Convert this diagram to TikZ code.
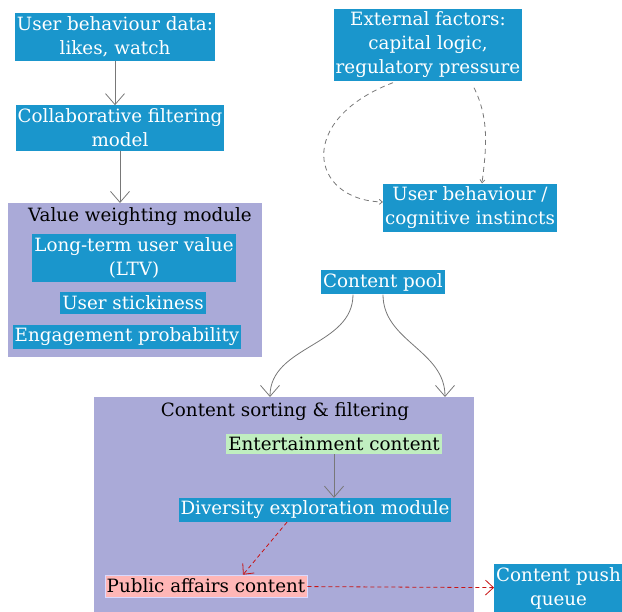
\documentclass[tikz,border=0pt]{standalone}
\usepackage{fontspec}
\setmainfont{DejaVu Serif}
\usepackage{tikz}
\usetikzlibrary{positioning,arrows.meta}
\definecolor{boxblue}{RGB}{26,150,204}
\definecolor{grpviolet}{RGB}{170,170,216}
\definecolor{entgreen}{RGB}{192,238,192}
\definecolor{pubpink}{RGB}{255,182,182}
\definecolor{arrowgray}{RGB}{120,120,120}
\definecolor{pushred}{RGB}{200,20,20}

\begin{document}
\begin{tikzpicture}[x=1pt,y=-1pt,
	txt/.style={font=\fontsize{18.3}{24}\selectfont},
	blk/.style={txt,fill=boxblue,text=white,align=center,inner xsep=2pt,inner ysep=3.5pt},
	grp/.style={fill=grpviolet,anchor=north west,inner sep=0pt},
	flow/.style={draw=arrowgray,thick,-{Straight Barb[length=11pt,width=19pt]}},
	hint/.style={draw=arrowgray,thick,dash pattern=on 5pt off 4pt,-{Straight Barb[length=3pt,width=5pt]}},
	push/.style={draw=pushred,thick,dash pattern=on 4pt off 3pt,-{Straight Barb[length=8pt,width=15pt]}}]
	
	\useasboundingbox (0,0) rectangle (622,612);
	
	% groups
	\node[grp,minimum width=254,minimum height=154] (valgrp) at (8,203) {};
	\node[txt] (valtitle) at (140,217) {Value weighting module};
	\node[grp,minimum width=380,minimum height=220] (sortgrp) at (94,397) {};
	\node[txt] (sorttitle) at (285,412) {Content sorting \& filtering};
	
	% left column
	\node[blk] (behav) at (115,37) {User behaviour data:\\likes, watch};
	\node[blk] (cf) at (120,128) {Collaborative filtering\\model};
	\node[blk] (ltv) at (134,258) {Long-term user value\\(LTV)};
	\node[blk] (stick) at (133,303) {User stickiness};
	\node[blk] (engage) at (127,337) {Engagement probability};
	
	% right column
	\node[blk] (ext) at (428,45) {External factors:\\capital logic,\\regulatory pressure};
	\node[blk] (instinct) at (470,208) {User behaviour /\\cognitive instincts};
	\node[blk] (pool) at (383,282) {Content pool};
	
	% inside sorting
	\node[txt,fill=entgreen,inner xsep=2pt,inner ysep=3pt] (ent) at (334,444) {Entertainment content};
	\node[blk,inner ysep=3pt] (div) at (315,510) {Diversity exploration module};
	\node[txt,fill=pubpink,draw=blue!15,inner xsep=2pt,inner ysep=4pt] (pub) at (206,586) {Public affairs content};
	\node[blk,anchor=west] (queue) at (494,588) {Content push\\queue};
	
	% connectors
	\draw[flow] (behav) -- (cf.north -| behav);
	\draw[flow] (cf) -- (valgrp.north -| cf);
	\draw[hint] ([xshift=-35,yshift=-1]ext.south) .. controls (295,120) and (310,200) .. ([yshift=6]instinct.west);
	\draw[hint] ([xshift=46,yshift=-6]ext.south) .. controls (490,120) and (486,150) .. ([xshift=12]instinct.north);
	\draw[flow] ([xshift=-30]pool.south) to[out=-90,in=90] (sortgrp.north -| 270,0);
	\draw[flow] (pool.south) to[out=-90,in=90] (sortgrp.north -| 445,0);
	\draw[flow] (ent) -- (div.north -| ent);
	\draw[push] (div.south -| 287,0) -- (pub.north -| 243,0);
	\draw[push] (pub) -- (queue);
\end{tikzpicture}
\end{document}
